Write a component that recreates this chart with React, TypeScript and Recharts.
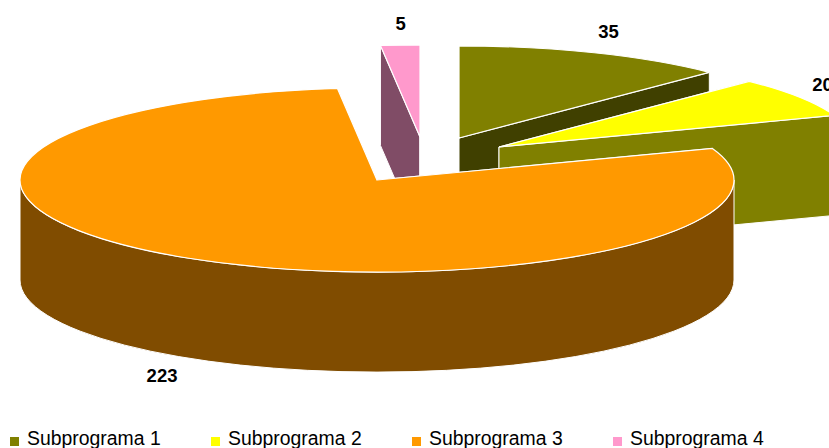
import { PieChart, Pie, Legend } from 'recharts';

const categories = ['Subprograma 1', 'Subprograma 2', 'Subprograma 3', 'Subprograma 4'];
const values = [35, 20, 223, 5];

// top face colour and side wall colour per category
const topColors = ['#808000', '#FFFF00', '#FF9900', '#FF99CC'];
const wallColors = ['#404000', '#808000', '#804C00', '#804C66'];
// how far each slice is pulled out of the pie, in pixels
const explodeX = [82, 122, 0, 43];
const explodeY = [-42, -33, 0, -43];
// small corrections of the value labels
const labelDx = [3, -2, -11, 2];
const labelDy = [1, 0, -3, 2];

const TILT = 0.258;
const DEPTH = 100;
const FONT = '"Liberation Sans", Arial, sans-serif';

// Slices are painted back to front, the pie therefore starts with Subprograma 4
const drawOrder = [3, 0, 1, 2];
const pieData = drawOrder.map((i) => ({
  name: categories[i],
  value: values[i],
  fill: topColors[i],
}));
const total = values.reduce((a, b) => a + b, 0);
const startAngle = 90 + (360 * values[3]) / total;

const toRad = (deg: number) => (deg * Math.PI) / 180;

function SliceShape(props: any) {
  const { cx, cy, outerRadius, startAngle: from, endAngle: to, name } = props;
  const idx = categories.indexOf(name ?? props.payload?.name);
  const ox = cx + explodeX[idx];
  const oy = cy + explodeY[idx];
  const rx = outerRadius;
  const ry = outerRadius * TILT;
  const pt = (deg: number, drop = 0) => [
    ox + rx * Math.cos(toRad(deg)),
    oy - ry * Math.sin(toRad(deg)) + drop,
  ];
  const [x1, y1] = pt(from);
  const [x2, y2] = pt(to);
  const large = Math.abs(from - to) > 180 ? 1 : 0;
  const top = `M${ox},${oy}L${x1},${y1}A${rx},${ry} 0 ${large} 1 ${x2},${y2}Z`;

  const face = (x: number, y: number) =>
    `M${ox},${oy}L${x},${y}L${x},${y + DEPTH}L${ox},${oy + DEPTH}Z`;

  // outer wall only shows on the front half of the ellipse
  let wall = '';
  if (from > 0 && to < 0) {
    const a = 0;
    const b = Math.max(to, -180);
    const [ax, ay] = pt(a);
    const [bx, by] = pt(b);
    wall = `M${ax},${ay}A${rx},${ry} 0 0 1 ${bx},${by}L${bx},${by + DEPTH}A${rx},${ry} 0 0 0 ${ax},${ay + DEPTH}Z`;
  }

  const wallFill = wallColors[idx];
  return (
    <g>
      <path d={face(x1, y1)} fill={wallFill} stroke="#fff" strokeWidth={1} />
      <path d={face(x2, y2)} fill={wallFill} stroke="#fff" strokeWidth={1} />
      {wall && <path d={wall} fill={wallFill} stroke="#fff" strokeWidth={1} />}
      <path d={top} fill={topColors[idx]} stroke="#fff" strokeWidth={1.2} />
    </g>
  );
}

function SliceLabel(props: any) {
  const { cx, cy, outerRadius, midAngle, value, name } = props;
  const idx = categories.indexOf(name ?? props.payload?.name);
  const s = Math.sin(toRad(midAngle));
  const c = Math.cos(toRad(midAngle));
  const x = cx + explodeX[idx] + c * (outerRadius + 30) + labelDx[idx];
  const front = s < 0 ? DEPTH : 0;
  const y = cy + explodeY[idx] - s * (outerRadius * TILT + 24) + front + labelDy[idx];
  return (
    <text
      x={x}
      y={y}
      textAnchor="middle"
      dominantBaseline="central"
      fontFamily={FONT}
      fontSize={18.5}
      fontWeight="bold"
      fill="#000"
    >
      {value}
    </text>
  );
}

function LegendRow({ payload }: any) {
  return (
    <div style={{ display: 'flex', paddingLeft: 10 }}>
      {(payload ?? []).map((item: any) => (
        <div
          key={item.value}
          style={{ width: 201, display: 'flex', alignItems: 'center', whiteSpace: 'nowrap' }}
        >
          <span
            style={{
              width: 9,
              height: 9,
              marginTop: 5,
              marginRight: 8,
              background: item.color,
              display: 'inline-block',
            }}
          />
          <span style={{ fontFamily: FONT, fontSize: 19.4, color: '#000' }}>{item.value}</span>
        </div>
      ))}
    </div>
  );
}

export default function App() {
  return (
    <div style={{ position: 'absolute', left: 0, top: 0, width: 829, height: 448, overflow: 'hidden', background: '#fff' }}>
      <PieChart width={829} height={448} margin={{ top: 0, right: 0, bottom: 0, left: 0 }}>
        <Pie
          data={pieData}
          dataKey="value"
          nameKey="name"
          cx={377}
          cy={180}
          innerRadius={0}
          outerRadius={357}
          startAngle={startAngle}
          endAngle={startAngle - 360}
          stroke="#fff"
          shape={SliceShape}
          label={SliceLabel}
          labelLine={false}
          legendType="square"
          isAnimationActive={false}
        />
        <Legend content={<LegendRow />} wrapperStyle={{ left: 0, top: 427, width: 829, height: 21 }} />
      </PieChart>
    </div>
  );
}
